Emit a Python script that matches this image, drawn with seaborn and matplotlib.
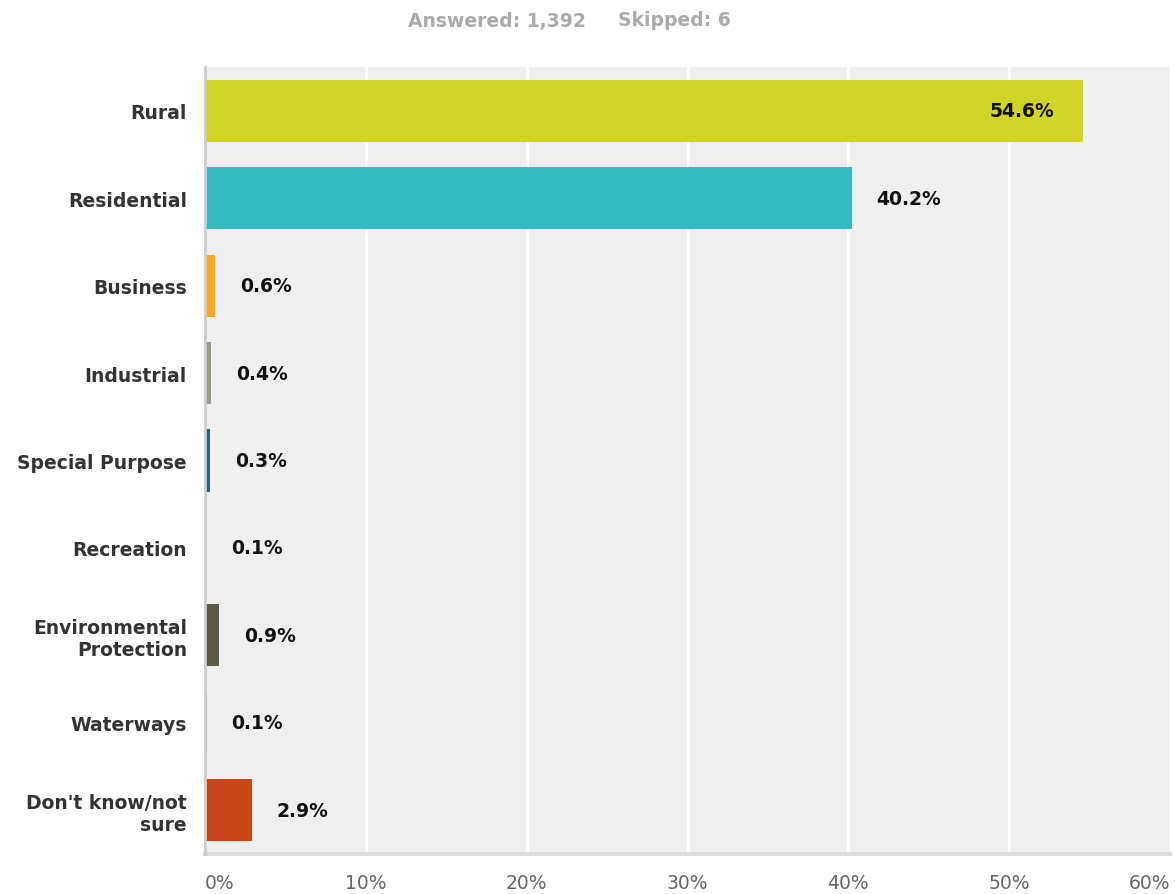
import matplotlib
matplotlib.use("Agg")
import matplotlib.pyplot as plt
import seaborn as sns
import pandas as pd

# Survey responses by zone type
categories = [
    "Rural",
    "Residential",
    "Business",
    "Industrial",
    "Special Purpose",
    "Recreation",
    "Environmental\nProtection",
    "Waterways",
    "Don't know/not\nsure",
]
percentages = [54.6, 40.2, 0.6, 0.4, 0.3, 0.1, 0.9, 0.1, 2.9]
bar_colors = [
    "#cfd426",
    "#33bbbf",
    "#f7ac1f",
    "#9a9b8b",
    "#2d6276",
    "#8fb3c0",
    "#5d5a4a",
    "#4f8aa6",
    "#c9461b",
]
tick_values = [0, 10, 20, 30, 40, 50, 60]
tick_labels = ["0%", "10%", "20%", "30%", "40%", "50%", "60%"]
answered_text = "Answered: 1,392"
skipped_text = "Skipped: 6"

df = pd.DataFrame({"category": categories, "pct": percentages})

sns.set_theme(style="white")
plt.rcParams["font.family"] = ["DejaVu Sans"]

fig = plt.figure(figsize=(11.75, 8.95), dpi=100)
ax = fig.add_axes([205 / 1175, 1 - 855 / 895, (1170 - 205) / 1175, (855 - 68) / 895])
ax.set_facecolor("#efefef")

sns.barplot(
    data=df,
    x="pct",
    y="category",
    hue="category",
    palette=dict(zip(categories, bar_colors)),
    orient="h",
    width=0.71,
    saturation=1,
    legend=False,
    linewidth=0,
    ax=ax,
    zorder=2,
)

ax.set_xlim(0, 60)
ax.set_ylim(len(categories) - 0.5, -0.5)

# white vertical grid
for v in tick_values[1:-1]:
    ax.axvline(v, color="white", lw=2, zorder=1)

ax.set_xticks(tick_values)
ax.set_xticklabels(tick_labels)
for i, lab in enumerate(ax.get_xticklabels()):
    if i == 0:
        lab.set_horizontalalignment("left")
    elif i == len(tick_values) - 1:
        lab.set_horizontalalignment("right")
ax.tick_params(axis="x", length=0, pad=14, labelsize=13.5, labelcolor="#666666")
ax.tick_params(axis="y", length=0, pad=13, labelsize=13.5, labelcolor="#333333")
for lab in ax.get_yticklabels():
    lab.set_fontweight("bold")
    lab.set_multialignment("right")

ax.set_xlabel("")
ax.set_ylabel("")

for side in ["top", "right"]:
    ax.spines[side].set_visible(False)
ax.spines["left"].set_color("#cccccc")
ax.spines["left"].set_linewidth(2)
ax.spines["left"].set_zorder(5)
ax.spines["bottom"].set_color("#dddddd")
ax.spines["bottom"].set_linewidth(3)

# value labels
for i, v in enumerate(percentages):
    text = f"{v:.1f}%"
    if v > 50:
        ax.annotate(text, (v, i), xytext=(-21, 0), textcoords="offset points",
                    ha="right", va="center", fontsize=13.5, fontweight="bold",
                    color="#111111", zorder=6)
    else:
        ax.annotate(text, (v, i), xytext=(18, 0), textcoords="offset points",
                    ha="left", va="center", fontsize=13.5, fontweight="bold",
                    color="#111111", zorder=6)

fig.text(408 / 1175, 1 - 21 / 895, answered_text, ha="left", va="center",
         fontsize=13.5, fontweight="bold", color="#aaaaaa")
fig.text(618 / 1175, 1 - 21 / 895, skipped_text, ha="left", va="center",
         fontsize=13.5, fontweight="bold", color="#aaaaaa")

fig.savefig("out.png", dpi=100, facecolor="white")
